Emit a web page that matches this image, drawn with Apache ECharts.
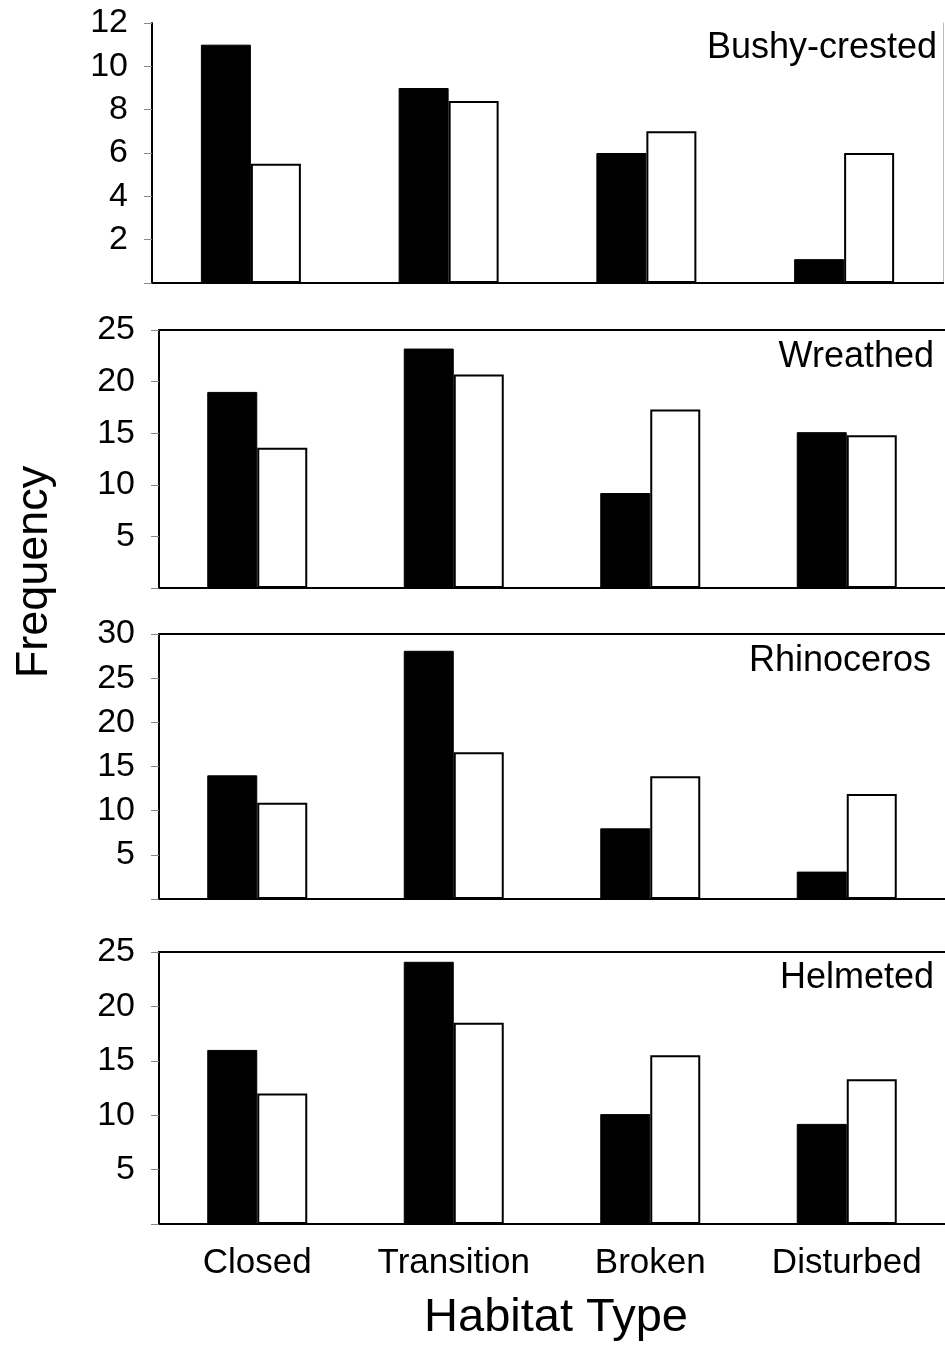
<!DOCTYPE html>
<html>
<head>
<meta charset="utf-8">
<script src="https://cdn.jsdelivr.net/npm/echarts@6/dist/echarts.min.js"></script>
<style>
  html, body { margin: 0; padding: 0; background: #fff; }
  #chart { width: 945px; height: 1347px; }
</style>
</head>
<body>
<div id="chart"></div>
<script>
// habitat categories shared by all panels
var habitats = ['Closed', 'Transition', 'Broken', 'Disturbed']

// one pair of series per hornbill species (black bar, white bar)
var species = ['Bushy-crested', 'Wreathed', 'Rhinoceros', 'Helmeted']
var bushyBlack = [11, 9, 6, 1.1]
var bushyWhite = [5.5, 8.4, 7, 6]
var wreathedBlack = [19, 23.2, 9.2, 15.1]
var wreathedWhite = [13.6, 20.7, 17.3, 14.8]
var rhinoBlack = [14, 28.1, 8, 3.1]
var rhinoWhite = [10.9, 16.6, 13.9, 11.9]
var helmetedBlack = [16, 24.1, 10.1, 9.2]
var helmetedWhite = [12, 18.5, 15.5, 13.3]

// y axis ranges per panel
var yMax = [12, 25, 30, 25]
var yStep = [2, 5, 5, 5]

var blackSets = [bushyBlack, wreathedBlack, rhinoBlack, helmetedBlack]
var whiteSets = [bushyWhite, wreathedWhite, rhinoWhite, helmetedWhite]

var font = 'Liberation Sans, Arial, sans-serif'
var grids = [
  { left: 152, top: 23, width: 791, height: 260 },
  { left: 159, top: 330, width: 790, height: 258 },
  { left: 159, top: 634, width: 790, height: 265 },
  { left: 159, top: 952, width: 790, height: 272 }
]
var titlePos = [
  { x: 937, y: 48 },
  { x: 934, y: 357 },
  { x: 931, y: 661 },
  { x: 934, y: 978 }
]

var xAxes = []
var yAxes = []
var series = []
var graphics = []

grids.forEach(function (g, i) {
  // bottom category axis
  xAxes.push({
    type: 'category',
    gridIndex: i,
    data: habitats,
    axisLine: { lineStyle: { color: '#000', width: 2 } },
    axisTick: { alignWithLabel: true, length: 11, lineStyle: { color: '#777', width: 1 } },
    axisLabel: {
      show: i === 3,
      interval: 0,
      hideOverlap: false,
      color: '#000',
      fontFamily: font,
      fontSize: 35,
      margin: 22
    }
  })
  // top border of the panel
  xAxes.push({
    type: 'category',
    gridIndex: i,
    position: 'top',
    data: habitats,
    axisLine: { lineStyle: { color: '#000', width: 2 } },
    axisTick: { show: false },
    axisLabel: { show: false }
  })
  yAxes.push({
    type: 'value',
    gridIndex: i,
    min: 0,
    max: yMax[i],
    interval: yStep[i],
    splitLine: { show: false },
    axisLine: { show: true, lineStyle: { color: '#000', width: 2 } },
    axisTick: { show: true, length: 8, lineStyle: { color: '#888', width: 1 } },
    axisLabel: {
      color: '#000',
      fontFamily: font,
      fontSize: 34,
      margin: 24,
      formatter: function (v) { return v === 0 ? '' : v }
    }
  })
  if (i === 0) {
    // faint right border on the first panel
    yAxes.push({
      type: 'value',
      gridIndex: i,
      position: 'right',
      min: 0,
      max: yMax[i],
      interval: yStep[i],
      splitLine: { show: false },
      axisLine: { show: true, lineStyle: { color: '#bbb', width: 1 } },
      axisTick: { show: false },
      axisLabel: { show: false }
    })
  }
  var yIdx = i === 0 ? 0 : i + 1
  series.push({
    type: 'bar',
    xAxisIndex: i * 2,
    yAxisIndex: yIdx,
    data: blackSets[i],
    barWidth: 50,
    barGap: '0%',
    itemStyle: { color: '#000', borderColor: '#000', borderWidth: 1 }
  })
  series.push({
    type: 'bar',
    xAxisIndex: i * 2,
    yAxisIndex: yIdx,
    data: whiteSets[i],
    barWidth: 50,
    barGap: '0%',
    itemStyle: { color: '#fff', borderColor: '#000', borderWidth: 2 }
  })
  graphics.push({
    type: 'text',
    x: titlePos[i].x,
    y: titlePos[i].y,
    style: {
      text: species[i],
      fill: '#000',
      font: '36px ' + font,
      align: 'right',
      verticalAlign: 'middle'
    }
  })
})

graphics.push({
  type: 'text',
  x: 35,
  y: 572,
  rotation: Math.PI / 2,
  style: {
    text: 'Frequency',
    fill: '#000',
    font: '45px ' + font,
    align: 'center',
    verticalAlign: 'middle'
  }
})
graphics.push({
  type: 'text',
  x: 556,
  y: 1318,
  style: {
    text: 'Habitat Type',
    fill: '#000',
    font: '47px ' + font,
    align: 'center',
    verticalAlign: 'middle'
  }
})

var chart = echarts.init(document.getElementById('chart'))
chart.setOption({
  animation: false,
  backgroundColor: '#fff',
  grid: grids,
  xAxis: xAxes,
  yAxis: yAxes,
  series: series,
  graphic: graphics
})
</script>
</body>
</html>
